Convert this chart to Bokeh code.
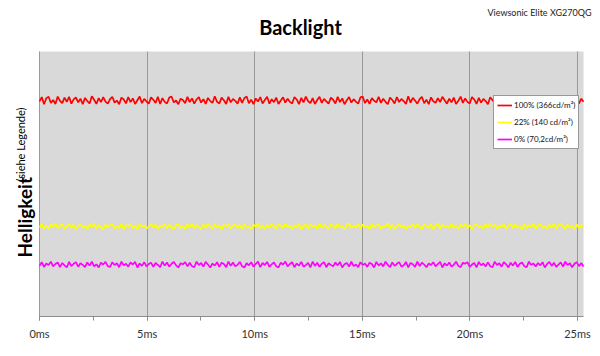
import numpy as np
from bokeh.plotting import figure
from bokeh.models import (Label, Range1d, SingleIntervalTicker, FixedTicker, PrintfTickFormatter,
                          Legend, LegendItem)
from bokeh.embed import file_html
from bokeh.resources import INLINE

# ---- data (arbitrary brightness units, plot area spans 0..100) ----
series_names = ["100% (366cd/m²)", "22% (140 cd/m²)", "0% (70,2cd/m²)"]
series_colors = ["#ff0000", "#ffff00", "#ff00ff"]
x_ticks_ms = [0, 5, 10, 15, 20, 25]
t_end_ms = 25.28
y_top = 100

red_100 = [
    81.2, 82.8, 80.1, 82.4, 82.9, 80.6, 81.7, 80.2, 83.0, 81.4,
    80.5, 82.6, 81.0, 82.9, 80.3, 81.9, 82.7, 80.8, 82.2, 80.1,
    82.5, 81.3, 80.4, 83.1, 81.8, 80.2, 82.4, 80.9, 82.8, 81.1,
    80.3, 82.0, 82.9, 80.7, 81.5, 80.1, 82.6, 81.9, 80.4, 82.8,
    80.9, 82.3, 80.2, 81.6, 83.0, 80.5, 82.1, 81.2, 80.3, 82.7,
    81.8, 80.6, 82.9, 80.2, 82.4, 81.0, 80.4, 82.6, 83.0, 80.8,
    81.5, 80.1, 82.2, 81.7, 80.5, 82.9, 80.9, 82.3, 80.3, 81.9,
    82.8, 80.7, 82.0, 80.2, 82.5, 81.3, 80.6, 83.1, 81.0, 80.4,
    82.6, 81.6, 80.2, 82.9, 80.8, 82.1, 81.4, 80.3, 82.7, 80.6,
    82.4, 83.0, 80.5, 81.8, 80.1, 82.3, 81.1, 82.8, 80.4, 81.7,
    82.9, 80.3, 82.0, 80.9, 82.6, 80.2, 81.5, 82.7, 80.7, 82.2,
    81.0, 80.4, 82.8, 81.9, 80.1, 82.5, 80.8, 83.0, 81.3, 80.5,
    82.4, 80.2, 81.7, 82.9, 80.6, 82.1, 81.2, 80.3, 82.6, 81.8,
    80.4, 82.9, 80.9, 82.3, 80.1, 81.6, 82.8, 80.7, 82.0, 81.1,
    80.3, 82.7, 83.0, 80.5, 81.9, 80.2, 82.4, 81.4, 80.8, 82.9,
    80.6, 82.2, 81.0, 80.1, 82.6, 81.7, 80.4, 82.8, 80.9, 82.1,
    81.3, 80.2, 83.1, 80.7, 82.5, 81.5, 80.3, 82.0, 82.9, 80.5,
    81.8, 80.1, 82.7, 81.2, 80.6, 82.4, 80.9, 82.9, 81.6, 80.3,
    82.2, 80.8, 82.6, 80.2, 81.4, 83.0, 80.6, 82.3, 81.0, 80.4,
    82.8, 81.9, 80.2, 82.5, 80.7, 82.1, 81.3, 80.1, 82.7, 81.7,
    80.5, 82.9, 80.9, 82.2, 80.3, 81.8, 82.6, 80.6, 82.0, 81.1,
    80.2, 82.8, 81.5, 80.4, 83.0, 80.8, 82.3, 81.6, 80.3, 82.5,
    81.0, 82.9, 80.5, 81.9, 80.1, 82.4, 81.2, 80.7, 82.7, 80.4,
    82.1, 81.4, 80.2, 82.9, 80.9, 82.6, 81.7, 80.3, 82.2, 81.0]
yellow_22 = [
    33.6, 34.9, 33.1, 34.4, 33.0, 34.7, 33.9, 35.1, 33.3, 34.2,
    34.8, 33.2, 33.9, 35.0, 33.4, 34.6, 32.9, 34.1, 34.9, 33.5,
    34.3, 33.0, 34.7, 33.8, 35.1, 33.2, 34.5, 33.6, 32.9, 34.8,
    33.7, 34.4, 35.0, 33.1, 34.0, 33.4, 34.9, 33.0, 34.6, 33.8,
    35.1, 33.3, 34.2, 32.9, 34.8, 33.9, 34.5, 33.1, 34.0, 35.0,
    33.5, 34.7, 33.0, 34.3, 33.7, 35.1, 33.2, 34.6, 33.9, 32.9,
    34.4, 34.9, 33.4, 34.1, 33.0, 34.8, 33.6, 35.0, 33.3, 34.5,
    33.8, 32.9, 34.7, 33.5, 35.1, 34.0, 33.1, 34.9, 33.7, 34.3,
    33.0, 34.6, 33.9, 35.0, 33.2, 34.2, 34.8, 33.4, 34.5, 33.1,
    34.9, 33.6, 34.0, 32.9, 34.7, 33.8, 35.1, 33.3, 34.4, 33.0,
    34.6, 33.5, 34.9, 33.9, 33.1, 34.8, 34.2, 33.4, 35.0, 33.7,
    34.3, 33.0, 34.5, 33.6, 35.1, 32.9, 34.1, 34.7, 33.2, 34.9,
    33.8, 34.4, 33.1, 35.0, 33.5, 34.6, 33.9, 33.0, 34.8, 34.2,
    33.3, 34.9, 33.7, 34.0, 32.9, 34.5, 35.1, 33.4, 34.3, 33.6,
    35.0, 33.2, 34.7, 33.8, 34.1, 33.0, 34.9, 33.5, 34.4, 34.8,
    33.1, 34.2, 33.9, 35.1, 33.3, 34.6, 33.0, 34.0, 34.8, 33.7,
    34.5, 32.9, 34.3, 33.6, 35.0, 33.4, 34.7, 33.9, 33.1, 34.9,
    34.1, 33.5, 34.8, 33.0, 34.4, 35.1, 33.2, 34.6, 33.8, 34.0,
    33.4, 34.9, 33.6, 34.2, 32.9, 34.7, 33.9, 35.0, 33.3, 34.5,
    33.0, 34.3, 34.8, 33.7, 34.1, 33.2, 34.9, 33.5, 35.1, 33.8,
    34.6, 33.1, 34.4, 33.9, 34.8, 33.0, 34.2, 35.0, 33.4, 34.7,
    33.6, 34.0, 32.9, 34.9, 33.3, 34.5, 33.8, 35.1, 33.1, 34.3,
    34.8, 33.5, 34.1, 33.0, 34.6, 33.7, 34.9, 33.2, 34.4, 35.0,
    33.9, 33.1, 34.7, 33.6, 34.2, 32.9, 34.8, 33.4, 34.5, 33.8]
magenta_0 = [
    19.1, 20.5, 18.7, 20.0, 19.4, 20.7, 18.9, 19.8, 20.4, 18.6,
    20.2, 19.3, 18.5, 20.6, 19.0, 19.9, 20.5, 18.8, 20.1, 19.5,
    18.6, 20.4, 19.2, 20.7, 18.9, 19.7, 18.5, 20.3, 19.6, 20.6,
    19.0, 18.7, 20.5, 19.4, 20.1, 18.6, 20.7, 19.3, 19.9, 18.8,
    20.4, 19.6, 20.6, 18.5, 20.0, 19.1, 20.5, 18.9, 19.8, 20.3,
    18.7, 20.2, 19.5, 18.6, 20.7, 19.2, 20.4, 18.8, 19.9, 20.6,
    19.3, 18.5, 20.1, 19.7, 20.5, 18.9, 20.3, 19.0, 18.6, 20.7,
    19.4, 20.2, 18.8, 20.6, 19.6, 18.5, 20.0, 19.2, 20.5, 18.7,
    20.3, 19.8, 18.6, 20.7, 19.1, 20.4, 18.9, 19.5, 20.6, 19.0,
    18.5, 20.1, 19.3, 20.5, 18.8, 19.9, 20.7, 18.6, 20.2, 19.4,
    20.6, 18.7, 19.7, 20.4, 19.0, 18.5, 20.3, 19.6, 20.7, 18.9,
    19.8, 20.5, 18.6, 20.0, 19.2, 20.6, 18.8, 19.4, 20.2, 18.5,
    20.7, 19.1, 20.3, 18.7, 19.9, 20.5, 18.6, 20.1, 19.5, 18.9,
    20.4, 19.3, 20.6, 18.5, 19.7, 20.2, 18.8, 20.7, 19.0, 19.6,
    18.6, 20.5, 19.4, 20.0, 18.7, 20.3, 19.8, 18.5, 20.6, 19.2,
    20.1, 18.9, 20.7, 19.5, 18.6, 20.4, 19.1, 19.9, 20.5, 18.8,
    19.3, 20.6, 18.5, 20.2, 19.7, 18.7, 20.7, 19.0, 20.3, 19.6,
    18.6, 20.0, 19.4, 20.5, 18.9, 19.8, 20.6, 18.5, 20.1, 19.2,
    20.4, 18.8, 19.5, 20.7, 19.1, 18.6, 20.3, 19.9, 20.5, 18.7,
    19.6, 20.2, 18.5, 20.6, 19.3, 20.0, 18.9, 20.4, 19.0, 18.6,
    20.7, 19.4, 20.1, 18.8, 20.5, 19.7, 18.5, 20.3, 19.2, 20.6,
    18.7, 19.9, 20.4, 19.0, 18.6, 20.7, 19.5, 20.0, 18.9, 20.2,
    19.3, 20.5, 18.5, 19.8, 20.6, 19.1, 20.3, 18.7, 19.6, 20.4,
    18.8, 20.7, 19.4, 20.1, 18.6, 19.9, 20.5, 19.0, 20.2, 18.9]
series_values = [red_100, yellow_22, magenta_0]

FONT = "Lato"
W, H = 600, 356
BOTTOM = 40               # x-axis panel height
PLOT_L, PLOT_T = 39, 51   # plot-area left / top in pixels
PX_PER_MS = 21.52
frame_h = H - BOTTOM
px_per_unit = (frame_h - PLOT_T) / y_top

# frame covers the whole canvas except the x-axis strip so that texts are not clipped
x_start = -PLOT_L / PX_PER_MS
x_end = (W - PLOT_L) / PX_PER_MS
y_end = frame_h / px_per_unit

p = figure(width=W, height=H, output_backend="svg", toolbar_location=None,
           x_range=Range1d(x_start, x_end), y_range=Range1d(0, y_end),
           min_border=0, min_border_bottom=BOTTOM)
p.background_fill_color = "white"
p.border_fill_color = "white"
p.outline_line_color = None
p.yaxis.visible = False

# plot area background
p.quad(left=[0], right=[t_end_ms], bottom=[0], top=[y_top], fill_color="#d9d9d9",
       line_color=None, level="image")

# vertical grid lines (0 acts as the y-axis line)
p.ygrid.visible = False
p.xgrid.ticker = FixedTicker(ticks=x_ticks_ms)
p.xgrid.cross_bounds = (0, y_top)
p.xgrid.grid_line_color = "#999999"
p.xgrid.grid_line_width = 1

renderers = []
for vals, col in zip(series_values, series_colors):
    t = np.linspace(0, t_end_ms, len(vals))
    renderers.append(p.line(t, vals, line_color=col, line_width=1.7))

# x axis
ax = p.xaxis[0]
ax.bounds = (0, t_end_ms)
ax.ticker = SingleIntervalTicker(interval=5, num_minor_ticks=2)
ax.formatter = PrintfTickFormatter(format="%dms")
ax.axis_line_color = "#8c8c8c"
ax.major_tick_line_color = "#8c8c8c"
ax.minor_tick_line_color = "#8c8c8c"
ax.major_tick_in = 0
ax.major_tick_out = 4
ax.minor_tick_in = 0
ax.minor_tick_out = 4
ax.major_label_text_font = FONT
ax.major_label_text_font_size = "11px"
ax.major_label_text_color = "#333333"
ax.major_label_standoff = 6

# legend
items = [LegendItem(label=n, renderers=[r]) for n, r in zip(series_names, renderers)]
legend = Legend(items=items, location=(493, 167), padding=3, spacing=5, margin=0,
                glyph_width=15, glyph_height=12, label_height=12, label_standoff=2,
                label_text_font=FONT, label_text_font_size="8px", label_text_color="#111111",
                border_line_color="#333333", border_line_width=1,
                background_fill_color="white", background_fill_alpha=1.0)
p.add_layout(legend)

# texts (screen units from frame bottom-left)
p.add_layout(Label(x=300, y=frame_h - 26, x_units="screen", y_units="screen", text="Backlight",
                   text_font=FONT, text_font_size="20px", text_font_style="bold",
                   text_align="center", text_baseline="alphabetic", text_color="black"))
p.add_layout(Label(x=591, y=frame_h - 12, x_units="screen", y_units="screen", text="Viewsonic Elite XG270QG",
                   text_font=FONT, text_font_size="9px", text_align="right",
                   text_baseline="alphabetic", text_color="#222222"))
p.add_layout(Label(x=24, y=frame_h - 257, x_units="screen", y_units="screen", text="Helligkeit",
                   text_font=FONT, text_font_size="19px", text_font_style="bold", angle=np.pi / 2,
                   text_align="left", text_baseline="middle", text_color="black"))
p.add_layout(Label(x=20, y=frame_h - 181, x_units="screen", y_units="screen", text="(siehe Legende)",
                   text_font=FONT, text_font_size="11px", angle=np.pi / 2,
                   text_align="left", text_baseline="middle", text_color="black"))

open("out.html", "w").write(file_html(p, INLINE))
